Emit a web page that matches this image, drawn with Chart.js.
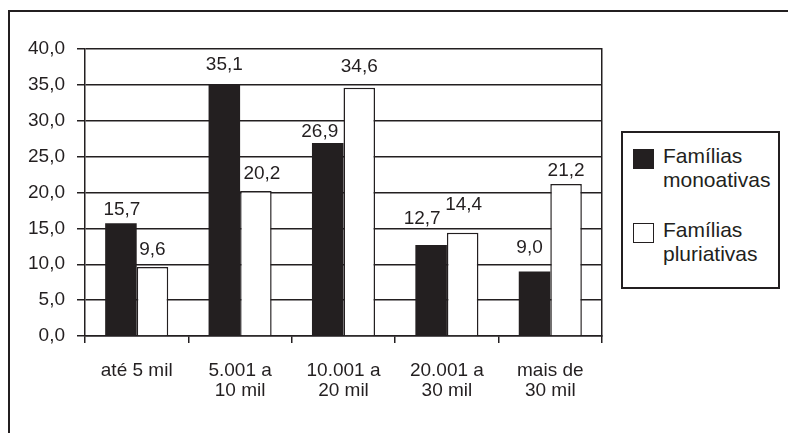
<!DOCTYPE html>
<html lang="pt">
<head>
<meta charset="utf-8">
<script src="https://cdn.jsdelivr.net/npm/chart.js@4/dist/chart.umd.min.js"></script>
<style>
  html, body { margin: 0; padding: 0; background: #fff; }
  #wrap { position: relative; width: 788px; height: 433px; overflow: hidden; font-family: "Liberation Sans", Arial, sans-serif; color: #231f20; }
  #frame { position: absolute; left: 8px; top: 10px; width: 900px; height: 600px; border: 2px solid #231f20; box-sizing: border-box; }
  canvas { position: absolute; left: 0; top: 0; }
  #legend { position: absolute; left: 621px; top: 131px; width: 159px; height: 158px; border: 2px solid #231f20; box-sizing: border-box; background: #fff; }
  .item { position: absolute; left: 40px; font-size: 21px; line-height: 24px; white-space: nowrap; }
  .sw { position: absolute; left: 10px; width: 21px; height: 20px; box-sizing: border-box; border: 1.5px solid #231f20; }
</style>
</head>
<body>
<div id="wrap">
  <div id="frame"></div>
  <canvas id="c" width="788" height="433"></canvas>
  <div id="legend"></div>
</div>
<script>
// Faixas de renda e percentual de famílias em cada faixa
const categories = [["até 5 mil"], ["5.001 a", "10 mil"], ["10.001 a", "20 mil"], ["20.001 a", "30 mil"], ["mais de", "30 mil"]];
const monoativas = [15.7, 35.1, 26.9, 12.7, 9.0];
const pluriativas = [9.6, 20.2, 34.6, 14.4, 21.2];
const seriesNames = [["Famílias", "monoativas"], ["Famílias", "pluriativas"]];
const yTicks = { min: 0, max: 40, step: 5 };

const INK = "#231f20";
const FONT = "'Liberation Sans', Arial, sans-serif";
const fmt = v => v.toFixed(1).replace(".", ",");

// Nudges (dx, dy in px from the bar's top centre) for each value label
const labelNudge = [
  [[1, -14], [0, -19], [-8, -11], [-9, -26], [-5, -24]],
  [[0, -17], [6, -17], [0, -21], [1, -28], [0, -13]]
];

const valueLabels = {
  id: "valueLabels",
  afterDatasetsDraw(chart) {
    const ctx = chart.ctx;
    ctx.save();
    ctx.font = "19px " + FONT;
    ctx.fillStyle = INK;
    ctx.textAlign = "center";
    ctx.textBaseline = "middle";
    chart.data.datasets.forEach((ds, di) => {
      chart.getDatasetMeta(di).data.forEach((bar, i) => {
        const [dx, dy] = labelNudge[di][i];
        ctx.fillText(fmt(ds.data[i]), bar.x + dx, bar.y + dy);
      });
    });
    ctx.restore();
  }
};

new Chart(document.getElementById("c"), {
  type: "bar",
  data: {
    labels: categories,
    datasets: [
      { label: seriesNames[0].join(" "), data: monoativas, backgroundColor: INK, borderColor: INK, borderWidth: 0 },
      { label: seriesNames[1].join(" "), data: pluriativas, backgroundColor: "#ffffff", borderColor: INK, borderWidth: 1.5 }
    ]
  },
  options: {
    responsive: false,
    animation: false,
    devicePixelRatio: 1,
    datasets: { bar: { categoryPercentage: 0.61, barPercentage: 1.0 } },
    layout: { padding: { left: 0, top: 49, right: 186, bottom: 0 } },
    plugins: { legend: { display: false }, tooltip: { enabled: false } },
    scales: {
      x: {
        grid: { drawOnChartArea: false, drawTicks: true, tickLength: 7, color: INK, lineWidth: 1.5, offset: true },
        border: { display: true, color: INK, width: 1.5 },
        ticks: { color: INK, font: { family: FONT, size: 19, lineHeight: 1.05 }, padding: 18, maxRotation: 0, autoSkip: false },
        afterFit(s) { s.height = 97; }
      },
      y: {
        min: yTicks.min, max: yTicks.max,
        grid: { drawOnChartArea: true, drawTicks: true, tickLength: 8, color: INK, lineWidth: 1.5 },
        border: { display: true, color: INK, width: 1.5 },
        ticks: { stepSize: yTicks.step, color: INK, font: { family: FONT, size: 19 }, padding: 12, callback: v => fmt(v) },
        afterFit(s) { s.width = 85; }
      },
      yRight: {
        position: "right",
        min: yTicks.min, max: yTicks.max,
        grid: { drawOnChartArea: false, drawTicks: false },
        border: { display: true, color: INK, width: 1.5 },
        ticks: { display: false },
        afterFit(s) { s.width = 0; }
      }
    }
  },
  plugins: [valueLabels]
});

// Legend box
const legend = document.getElementById("legend");
const fills = [INK, "#ffffff"];
const tops = [11, 85];
seriesNames.forEach((lines, i) => {
  const sw = document.createElement("div");
  sw.className = "sw";
  sw.style.top = (tops[i] + 5) + "px";
  sw.style.background = fills[i];
  legend.appendChild(sw);
  const t = document.createElement("div");
  t.className = "item";
  t.style.top = tops[i] + "px";
  t.innerHTML = lines.join("<br>");
  legend.appendChild(t);
});
</script>
</body>
</html>
